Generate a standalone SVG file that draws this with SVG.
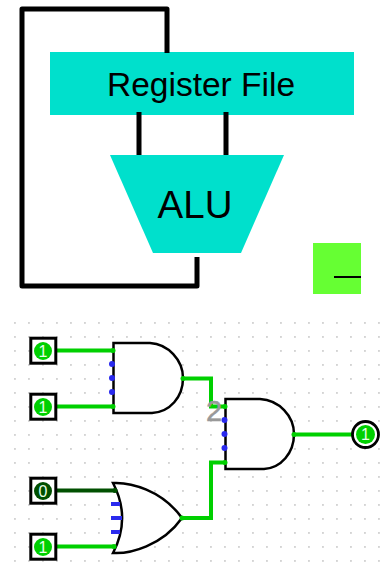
<svg xmlns="http://www.w3.org/2000/svg" width="382" height="572" viewBox="0 0 382 572">
<style>
.fill{fill:#00e0cc}
.big{font-family:"Liberation Sans",Arial,sans-serif;fill:#000;text-anchor:middle}
.bus{fill:none;stroke:#000;stroke-width:5;stroke-linejoin:round}
.wire{fill:none;stroke:#00d000;stroke-width:4}
.low{fill:none;stroke:#005000;stroke-width:4}
.gate{fill:#fff;stroke:#000;stroke-width:2.500}
.box{fill:#fff;stroke:#000;stroke-width:3}
.val{font-family:"Liberation Sans",Arial,sans-serif;font-size:16px;fill:#e8ffe8;text-anchor:middle}
.pin{fill:#2a2aee}
.end{fill:#00d000}
</style>
<defs>
<pattern id="dots" x="14" y="322" width="14" height="14" patternUnits="userSpaceOnUse"><rect x="0.200" y="0.200" width="1.500" height="1.500" fill="#bbb"/></pattern>
</defs>
<rect width="382" height="572" fill="#fff"/>
<rect id="grid" x="14" y="322" width="366" height="242" fill="url(#dots)"/>
<g id="register-file"><rect class="fill" x="50" y="52" width="304" height="63"/><text class="big" x="201" y="96" font-size="33.500">Register File</text></g>
<g id="alu"><polygon class="fill" points="110,155 284,155 241,253 153,253"/><text class="big" x="195" y="218" font-size="38.500">ALU</text></g>
<g id="connectors">
<path class="bus" d="M167 53V9H22V286H197V257"/>
<path class="bus" d="M139 112V155M226 112V155"/>
<path class="wire" d="M57 350.500H113M57 406.500H113M57 546.500H113M183 378.500H211V406.500H225M183 518H211V462.500H225M294 434.500H352"/>
<path class="low" d="M57 490.500H115"/>
</g>
<g id="swatch"><rect x="313" y="243" width="48" height="51" fill="#66ff33"/><path d="M334 277H361" stroke="#000" stroke-width="2"/></g>
<g id="in-a"><rect class="box" x="30.800" y="338.200" width="25" height="25"/><circle class="end" cx="43" cy="351" r="9"/><text class="val" x="43" y="356.500">1</text></g>
<g id="in-b"><rect class="box" x="30.800" y="394.200" width="25" height="25"/><circle class="end" cx="43" cy="407" r="9"/><text class="val" x="43" y="412.500">1</text></g>
<g id="in-c"><rect class="box" x="30.800" y="478.200" width="25" height="25"/><circle cx="43" cy="491" r="9" fill="#005000"/><text class="val" x="43" y="496.500">0</text></g>
<g id="in-d"><rect class="box" x="30.800" y="534.200" width="25" height="25"/><circle class="end" cx="43" cy="547" r="9"/><text class="val" x="43" y="552.500">1</text></g>
<g id="and-1">
<path class="gate" d="M113.500 343H150C168 344 183 360 183 378C183 397 170 412 152 413H113.500Z"/>
<circle class="pin" cx="112" cy="364" r="3"/><circle class="pin" cx="112" cy="378" r="3"/><circle class="pin" cx="112" cy="392" r="3"/>
<circle class="end" cx="113" cy="350.500" r="2.500"/><circle class="end" cx="113" cy="406.500" r="2.500"/><circle class="end" cx="183" cy="378.500" r="2.500"/>
</g>
<g id="or-1">
<path class="gate" d="M113 483C130 482 162 490 182 518C162 546 130 554 113 553C125 530 125 506 113 483Z"/>
<path d="M111 504H120M111 518H122M111 532H120" stroke="#2a2aee" stroke-width="4" fill="none"/>
<circle cx="115" cy="490.500" r="2.500" fill="#005000"/><circle class="end" cx="114" cy="546.500" r="2.500"/><circle class="end" cx="182" cy="518" r="2.500"/>
</g>
<g id="and-2">
<path class="gate" d="M225.500 399H260C279 400 294 416 294 434C294 453 281 468 264 469H225.500Z"/>
<circle class="pin" cx="224.500" cy="420" r="3"/><circle class="pin" cx="224.500" cy="434" r="3"/><circle class="pin" cx="224.500" cy="448" r="3"/>
<circle class="end" cx="225" cy="406.500" r="2.500"/><circle class="end" cx="225" cy="462.500" r="2.500"/><circle class="end" cx="294" cy="434.500" r="2.500"/>
<text x="214" y="421" font-family="'Liberation Sans',Arial,sans-serif" font-size="29" fill="#999" stroke="#999" stroke-width="0.500" text-anchor="middle">2</text>
</g>
<g id="out"><circle cx="365.500" cy="434.500" r="13" fill="#fff" stroke="#000" stroke-width="2.800"/><circle class="end" cx="365.500" cy="434.500" r="9.500"/><text class="val" x="365.500" y="440">1</text></g>
</svg>
